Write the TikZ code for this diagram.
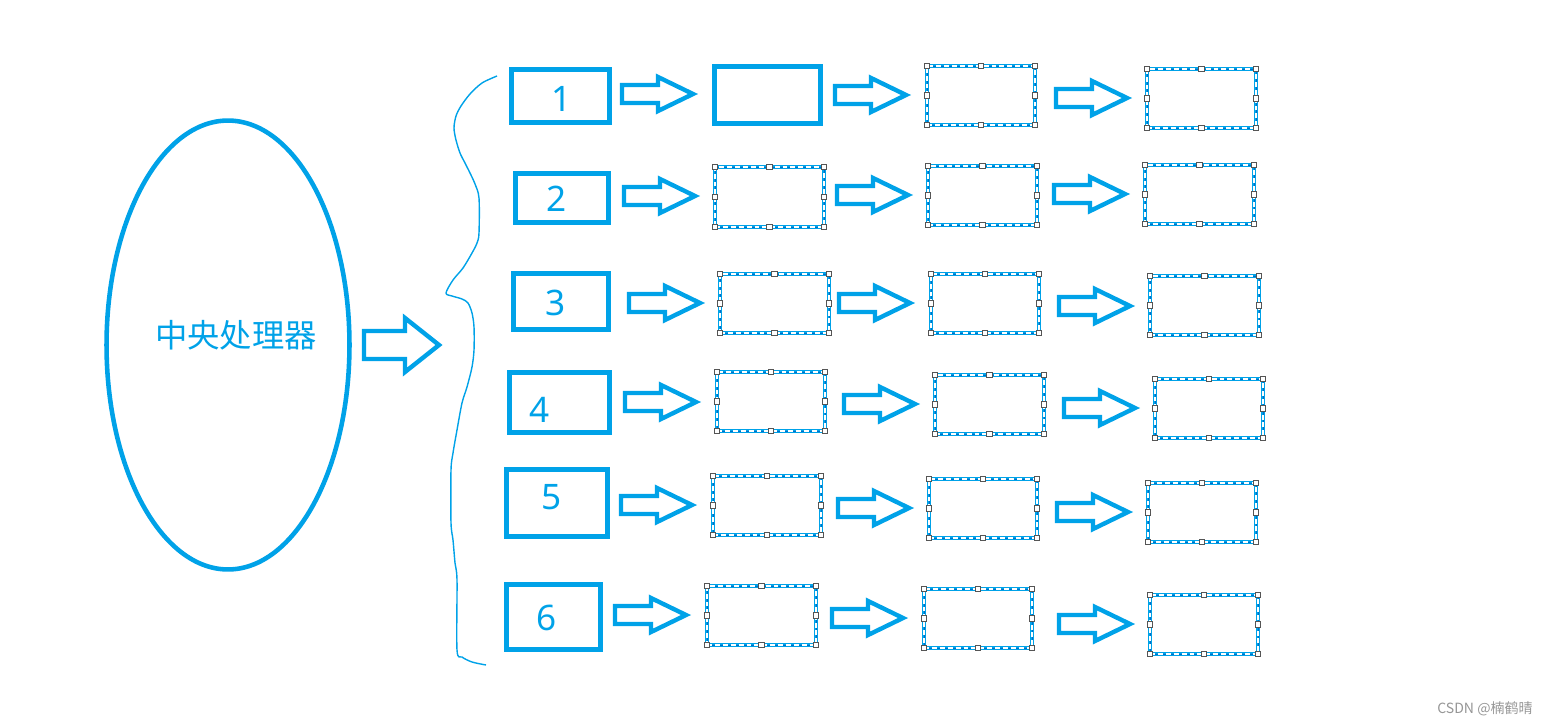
\documentclass[tikz,border=0pt]{standalone}
\usepackage{fontspec}
\setmainfont{Noto Sans}
\newfontfamily\cjk{Noto Sans CJK SC}
\usetikzlibrary{shapes.geometric}
\definecolor{paintblue}{RGB}{0,162,232}
\definecolor{selblue}{RGB}{0,110,200}
\definecolor{handlegray}{RGB}{85,85,85}
\definecolor{markgray}{RGB}{150,150,150}
\tikzset{
	numbox/.style={draw=paintblue, line width=2.85pt, inner sep=0pt, outer sep=0pt},
	selbox/.style={draw=paintblue, line width=2.28pt, inner sep=0pt, outer sep=0pt,
		postaction={draw=selblue, line width=0.55pt},
		postaction={draw=white, line width=0.6pt, dash pattern=on 2.8pt off 1.7pt}},
	handle/.style={draw=handlegray, fill=white, line width=0.55pt, minimum size=2.9pt, inner sep=0pt},
	blockarr/.style={draw=paintblue, line width=2.5pt, line join=miter},
	numtext/.style={text=paintblue, font=\fontsize{20}{22}\selectfont, inner sep=0pt}
}
\begin{document}
\begin{tikzpicture}[x=0.02cm, y=-0.02cm]
	\useasboundingbox (0,0) rectangle (1550,726);
	% processor
	\node[ellipse, draw=paintblue, line width=2.6pt, minimum width=4.86cm, minimum height=8.98cm, inner sep=0pt] (cpu) at (228,345) {};
	\node[text=paintblue, font=\cjk\fontsize{18.4}{20}\selectfont] (cpulabel) at (236,335) {中央处理器};
	\draw[blockarr] (364,331) -- (405,331) -- (405,318) -- (439,345) -- (405,372) -- (405,359) -- (364,359) -- cycle;
	% brace
	\draw[paintblue, line width=0.8pt] plot[smooth, tension=0.5] coordinates {
		(497,76) (482,83) (470,94) (461,106) (456,116) (454,128) (456,140) (460,153)
		(465,163) (470,173) (475,184) (479,198) (479,233) (477,243) (472,253) (463,268)
		(453,280) (446,293) (452,296) (462,299) (468,303) (472,313) (474,327) (474,350)
		(472,367) (467,387) (462,403) (457,430) (453,453) (451,470) (451,523) (453,540)
		(455,563) (457,580) (457,650) (462,657) (472,662) (486,665)};
	% numbered boxes
	\foreach \n/\xa/\ya/\xb/\yb/\tx/\ty in {1/511.5/69.5/609.5/122.5/562/99, 2/515.5/173.5/608.5/222.5/557/199,
		3/513.5/273.5/608.5/329.5/556/303, 4/509.5/372.5/609.5/432.5/540/410,
		5/506.5/469.5/607.5/536.5/552/497, 6/506.5/584.5/600.5/649.5/547/618} {
		\node[numbox, minimum width={(\xb-\xa)*0.02cm}, minimum height={(\yb-\ya)*0.02cm}] (box\n) at ({(\xa+\xb)/2},{(\ya+\yb)/2}) {};
		\node[numtext] (num\n) at (\tx,\ty) {\n};
	}
	\node[numbox, minimum width=2.12cm, minimum height=1.14cm] (s11) at (767.5,95) {};
	% selected boxes
	\foreach \r/\c/\xa/\ya/\xb/\yb in {1/2/927/66/1035/125, 1/3/1147/69/1256/128,
		2/1/715/167/824/227, 2/2/928/166/1037/225, 2/3/1145/165/1254/224,
		3/1/720/274/829/333, 3/2/931/274/1039/333, 3/3/1150/276/1259/335,
		4/1/717/372/825/431, 4/2/935/375/1044/434, 4/3/1155/379/1263/438,
		5/1/713/476/821/535, 5/2/929/479/1037/538, 5/3/1148/483/1256/542,
		6/1/707/586/816/645, 6/2/924/589/1032/648, 6/3/1150/595/1258/654} {
		\node[selbox, minimum width={(\xb-\xa)*0.02cm}, minimum height={(\yb-\ya)*0.02cm}] (s\r\c) at ({(\xa+\xb)/2},{(\ya+\yb)/2}) {};
		\foreach \a in {north west, north, north east, east, south east, south, south west, west}
			\node[handle] at (s\r\c.\a) {};
	}
	% arrows
	\foreach \x/\y in {620/94, 833/95, 1054/98, 622/196, 835/195, 1052/194,
		627/303, 837/303, 1057/306, 623/402, 842/404, 1062/408,
		619/505, 836/508, 1055/512, 613/615, 830/618, 1057/624}
		\draw[blockarr] ({\x+2},{\y-9}) -- ({\x+38},{\y-9}) -- ({\x+38},{\y-17}) -- ({\x+73},\y)
			-- ({\x+38},{\y+17}) -- ({\x+38},{\y+9}) -- ({\x+2},{\y+9}) -- cycle;
	\node[text=markgray, font=\cjk\fontsize{8}{9}\selectfont] (mark) at (1485,709) {CSDN @楠鹤晴};
\end{tikzpicture}
\end{document}
